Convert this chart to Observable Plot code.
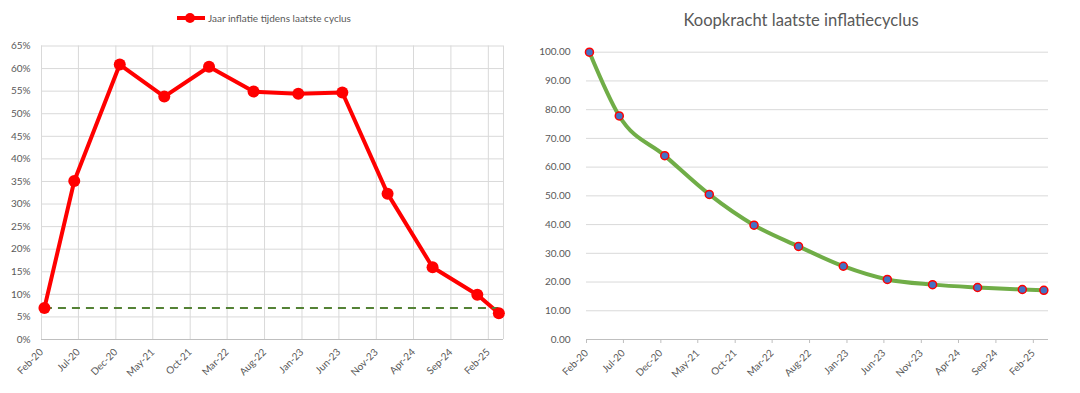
<!DOCTYPE html>
<html><head><meta charset="utf-8">
<script src="https://cdn.jsdelivr.net/npm/d3@7"></script>
<script src="https://cdn.jsdelivr.net/npm/@observablehq/plot@0.6"></script>
<style>
body{margin:0;background:#fff;font-family:Lato,"Open Sans",sans-serif;}
#wrap{position:relative;width:1080px;height:393px;overflow:hidden;background:#fff;}
#left{position:absolute;left:0;top:0;}
#right{position:absolute;left:540px;top:0;}
#legend{position:absolute;left:176px;top:11px;font-size:10px;color:#595959;display:flex;align-items:center;white-space:nowrap;line-height:1;}
#legend svg{margin-right:2px;}
#title{position:absolute;left:540px;width:522px;top:12px;text-align:center;font-size:16.6px;color:#595959;line-height:1;}
</style></head><body>
<div id="wrap">
  <div id="left"></div>
  <div id="right"></div>
  <div id="legend"><svg width="30" height="14"><line x1="1" x2="29" y1="7" y2="7" stroke="#ff0000" stroke-width="4"/><circle cx="14" cy="7" r="5" fill="#ff0000"/></svg><span>Jaar inflatie tijdens laatste cyclus</span></div>
  <div id="title">Koopkracht laatste inflatiecyclus</div>
</div>
<script>
// ---- data ----
const dateStrings = ["2020-02-13","2020-06-14","2020-12-17","2021-06-17","2021-12-17","2022-06-17","2022-12-17","2023-06-15","2023-12-17","2024-06-18","2024-12-18","2025-03-16"];
const inflation = [7.0, 35.1, 60.9, 53.8, 60.4, 54.9, 54.4, 54.7, 32.3, 16.0, 9.9, 5.8];
const koopkracht = [100.0, 77.8, 64.0, 50.5, 39.8, 32.4, 25.5, 20.9, 19.1, 18.1, 17.4, 17.1];
const threshold = 7;
const tickLabels = ["Feb-20","Jul-20","Dec-20","May-21","Oct-21","Mar-22","Aug-22","Jan-23","Jun-23","Nov-23","Apr-24","Sep-24","Feb-25"];
const leftYTicks = [0,5,10,15,20,25,30,35,40,45,50,55,60,65];
const rightYTicks = [0,10,20,30,40,50,60,70,80,90,100];
const xDomainStrings = ["2020-02-01","2025-04-04"];

// ---- build ----
const parseLabel = d3.utcParse("%b-%y");
const fmt = d3.utcFormat("%b-%y");
const dates = dateStrings.map(s => new Date(s + "T00:00:00Z"));
const tickDates = tickLabels.map(parseLabel);
const xDomain = xDomainStrings.map(s => new Date(s + "T00:00:00Z"));
const leftData = dates.map((d, i) => ({date: d, value: inflation[i]}));
const rightData = dates.map((d, i) => ({date: d, value: koopkracht[i]}));

const baseStyle = {fontFamily: "Lato, 'Open Sans', sans-serif", fontSize: "10px", color: "#595959", background: "transparent", overflow: "visible"};

const left = Plot.plot({
  width: 540, height: 393,
  marginTop: 45.5, marginBottom: 54, marginLeft: 41, marginRight: 37,
  style: baseStyle,
  x: {type: "utc", domain: xDomain, label: null},
  y: {domain: [0, 65], label: null},
  marks: [
    Plot.gridY(leftYTicks, {stroke: "#d9d9d9", strokeOpacity: 1}),
    Plot.gridX(tickDates, {stroke: "#d9d9d9", strokeOpacity: 1}),
    Plot.ruleX([xDomain[1]], {stroke: "#d9d9d9"}),
    Plot.ruleY([0], {stroke: "#bfbfbf"}),
    Plot.axisY(leftYTicks, {tickSize: 0, tickPadding: 11, tickFormat: d => d + "%", fontSize: 10, label: null}),
    Plot.axisX(tickDates, {tickSize: 0, tickPadding: 11, tickRotate: -45, tickFormat: fmt, fontSize: 10, label: null}),
    Plot.line(leftData, {x: "date", y: "value", stroke: "#ff0000", strokeWidth: 4}),
    Plot.ruleY([threshold], {x1: dates[0], x2: dates[dates.length - 1], stroke: "#548235", strokeWidth: 2, strokeDasharray: "8,6"}),
    Plot.dot(leftData, {x: "date", y: "value", r: 6, fill: "#ff0000"})
  ]
});
document.getElementById("left").appendChild(left);

const right = Plot.plot({
  width: 540, height: 393,
  marginTop: 51.7, marginBottom: 54, marginLeft: 46, marginRight: 32,
  style: baseStyle,
  x: {type: "utc", domain: xDomain, label: null},
  y: {domain: [0, 100], label: null},
  marks: [
    Plot.gridY(rightYTicks, {stroke: "#d9d9d9", strokeOpacity: 1}),
    Plot.ruleY([0], {stroke: "#bfbfbf"}),
    Plot.axisY(rightYTicks, {tickSize: 0, tickPadding: 16, tickFormat: d => d.toFixed(2), fontSize: 10, label: null}),
    Plot.axisX(tickDates, {tickSize: 4, stroke: "#bfbfbf", strokeOpacity: 1, tickPadding: 8, tickRotate: -45, tickFormat: fmt, fontSize: 10, label: null}),
    Plot.line(rightData, {x: "date", y: "value", stroke: "#70ad47", strokeWidth: 4, curve: "monotone-x"}),
    Plot.dot(rightData, {x: "date", y: "value", r: 4, fill: "#4472c4", stroke: "#ff0000", strokeWidth: 1.5})
  ]
});
document.getElementById("right").appendChild(right);
</script>
</body></html>
